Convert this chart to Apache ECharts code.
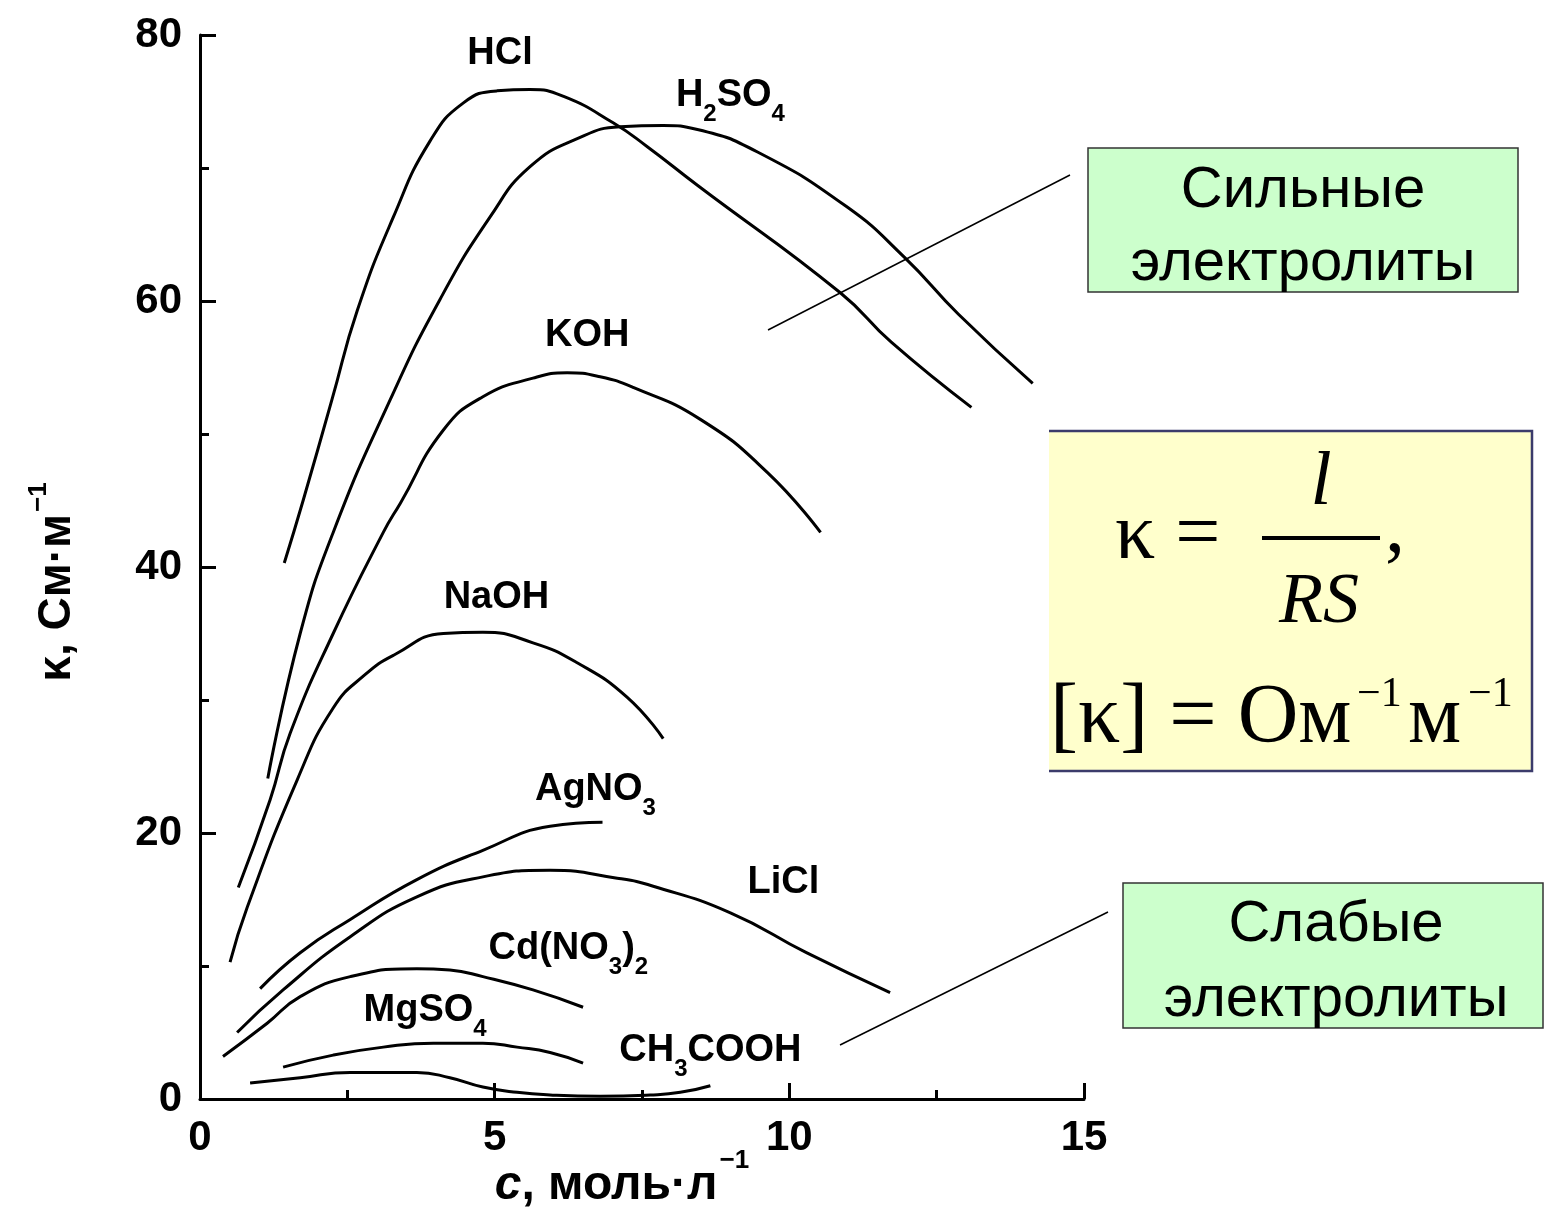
<!DOCTYPE html>
<html>
<head>
<meta charset="utf-8">
<script src="https://cdn.jsdelivr.net/npm/echarts@6/dist/echarts.min.js"></script>
<style>
html, body { margin: 0; padding: 0; background: #fff; }
#chart { width: 1545px; height: 1209px; }
</style>
</head>
<body>
<div id="chart"></div>
<script>
// удельная электропроводность κ (См/м) от концентрации c (моль/л)
const hcl = [[1.43, 40.3], [1.75, 45.0], [2.24, 52.6], [2.67, 59.3], [3.28, 66.3], [3.90, 72.0], [4.47, 74.9], [5.04, 75.8], [5.60, 75.9], [6.16, 75.4], [7.01, 73.4], [7.59, 71.6], [8.44, 68.7], [10.87, 60.6], [11.73, 56.9], [13.09, 52.0]];
const h2so4 = [[1.15, 24.1], [1.70, 35.0], [2.26, 42.6], [3.23, 52.6], [4.07, 60.1], [4.92, 66.3], [5.60, 70.1], [6.45, 72.3], [7.13, 73.1], [7.86, 73.2], [8.44, 72.9], [9.46, 71.2], [10.97, 67.1], [11.95, 63.3], [12.87, 59.0], [14.13, 53.8]];
const koh = [[0.65, 15.9], [1.19, 22.5], [1.53, 27.5], [2.26, 35.0], [3.11, 42.6], [3.40, 44.8], [4.13, 50.3], [4.80, 52.8], [5.65, 54.2], [6.23, 54.6], [6.79, 54.3], [7.35, 53.5], [8.49, 51.1], [9.63, 47.1], [10.53, 42.6]];
const naoh = [[0.51, 10.3], [0.80, 14.4], [1.65, 24.0], [2.26, 29.4], [2.80, 31.9], [3.30, 33.4], [4.13, 35.0], [4.80, 35.1], [5.65, 34.3], [6.40, 32.8], [7.25, 30.2], [7.86, 27.1]];
const agno3 = [[1.02, 8.3], [1.70, 11.0], [2.55, 13.5], [3.68, 16.5], [4.80, 18.7], [5.94, 20.5], [6.83, 20.8]];
const licl = [[0.63, 5.0], [1.41, 8.2], [2.55, 12.2], [3.68, 15.2], [4.80, 16.7], [5.94, 17.2], [7.08, 16.6], [7.69, 16.0], [9.00, 14.0], [10.29, 11.0], [11.71, 8.0]];
const cdno3 = [[0.39, 3.2], [1.14, 5.7], [1.70, 7.7], [2.55, 9.2], [3.68, 9.8], [4.24, 9.7], [4.80, 9.2], [5.65, 8.2], [6.50, 6.9]];
const mgso4 = [[1.41, 2.4], [2.26, 3.3], [3.11, 3.9], [3.96, 4.2], [4.80, 4.2], [5.38, 3.9], [5.94, 3.5], [6.50, 2.7]];
const ch3cooh = [[0.85, 1.2], [1.70, 1.6], [2.55, 2.0], [3.11, 2.0], [3.68, 2.0], [4.24, 1.6], [4.80, 0.9], [5.38, 0.5], [5.94, 0.3], [6.79, 0.2], [7.64, 0.3], [8.15, 0.5], [8.66, 1.0]];

const curves = [hcl, h2so4, koh, naoh, agno3, licl, cdno3, mgso4, ch3cooh];

// подписи кривых (текст в формате rich) и точки привязки в координатах графика
const curveNames = ["{m|HCl}", "{m|H}{s|2}{m|SO}{s|4}", "{m|KOH}", "{m|NaOH}", "{m|AgNO}{s|3}", "{m|LiCl}", "{m|Cd(NO}{s|3}{m|)}{s|2}", "{m|MgSO}{s|4}", "{m|CH}{s|3}{m|COOH}"];
const nameAnchors = [[5.09, 78.6], [9.0, 75.0], [6.57, 57.4], [5.03, 37.7], [6.71, 22.8], [9.9, 16.3], [6.25, 10.9], [3.82, 6.2], [8.66, 3.2]];

const sans = '"Liberation Sans", Arial, sans-serif';
const serif = '"Liberation Serif", "Times New Roman", serif';

const chart = echarts.init(document.getElementById("chart"));

const lineSeries = curves.map((pts) => ({
  type: "line",
  data: pts,
  smooth: 0.5,
  symbol: "none",
  showSymbol: false,
  silent: true,
  lineStyle: { color: "#000", width: 3 },
  z: 3,
}));

const labelSeries = {
  type: "scatter",
  symbolSize: 0,
  silent: true,
  itemStyle: { color: "#000", opacity: 1 },
  data: curveNames.map((n, i) => ({ value: nameAnchors[i], name: n })),
  label: {
    show: true,
    position: "inside",
    formatter: (p) => p.name,
    color: "#000",
    opacity: 1,
    textBorderWidth: 0,
    rich: {
      m: { fontFamily: sans, fontWeight: "bold", fontSize: 38, lineHeight: 38, color: "#000", textBorderWidth: 0, verticalAlign: "top" },
      s: { fontFamily: sans, fontWeight: "bold", fontSize: 24, color: "#000", textBorderWidth: 0, verticalAlign: "bottom", padding: [26, 0, 0, 0] },
    },
  },
};

const axisCommon = {
  type: "value",
  axisLine: { show: true, onZero: false, lineStyle: { color: "#000", width: 3 } },
  axisTick: { show: true, inside: true, length: 16, lineStyle: { color: "#000", width: 3 } },
  minorTick: { show: true, splitNumber: 2, length: 9, lineStyle: { color: "#000", width: 3 } },
  splitLine: { show: false },
  minorSplitLine: { show: false },
  axisLabel: { fontFamily: sans, fontSize: 42, fontWeight: "bold", color: "#000", margin: 18 },
  nameLocation: "middle",
  nameMoveOverlap: false,
};

const option = {
  backgroundColor: "#fff",
  animation: false,
  grid: { left: 200, top: 35, width: 884, height: 1064, outerBoundsMode: "none", containLabel: false },
  xAxis: {
    ...axisCommon,
    min: 0,
    max: 15,
    interval: 5,
    name: "{i|c}{t|, моль·л}{sup|−1}",
    nameGap: 49,
    nameTextStyle: {
      padding: [0, 40, 0, 0],
      rich: {
        i: { fontFamily: sans, fontSize: 48, fontWeight: "bold", fontStyle: "italic", lineHeight: 48, color: "#000", verticalAlign: "bottom" },
        t: { fontFamily: sans, fontSize: 48, fontWeight: "bold", lineHeight: 48, color: "#000", verticalAlign: "bottom" },
        sup: { fontFamily: sans, fontSize: 26, fontWeight: "bold", color: "#000", verticalAlign: "top", padding: [0, 0, 36, 2] },
      },
    },
  },
  yAxis: {
    ...axisCommon,
    min: 0,
    max: 80,
    interval: 20,
    name: "{t|κ, См·м}{sup|−1}",
    nameGap: 120,
    nameTextStyle: {
      padding: [0, 30, 0, 0],
      rich: {
        t: { fontFamily: sans, fontSize: 46, fontWeight: "bold", lineHeight: 46, color: "#000", verticalAlign: "bottom" },
        sup: { fontFamily: sans, fontSize: 26, fontWeight: "bold", color: "#000", verticalAlign: "top", padding: [0, 0, 28, 2] },
      },
    },
  },
  series: [...lineSeries, labelSeries],
  graphic: [
    // сильные электролиты
    { type: "line", shape: { x1: 768, y1: 330, x2: 1070, y2: 175 }, style: { stroke: "#000", lineWidth: 1.5 }, z: 10 },
    { type: "rect", shape: { x: 1088, y: 148, width: 430, height: 144 }, style: { fill: "#ccffcc", stroke: "#333", lineWidth: 1.5 }, z: 10 },
    { type: "text", x: 1303, y: 227, style: { text: "Сильные\nэлектролиты", font: "58px " + sans, fill: "#000", align: "center", verticalAlign: "middle", lineHeight: 73 }, z: 11 },
    // формула
    { type: "rect", shape: { x: 1049, y: 430, width: 484, height: 342 }, style: { fill: "#ffffcc" }, z: 10 },
    { type: "polyline", shape: { points: [[1049, 431], [1532, 431], [1532, 771], [1049, 771]] }, style: { stroke: "#3b3b6b", lineWidth: 2.5, fill: null }, z: 11 },
    { type: "text", x: 1115, y: 537, style: { text: "κ =", font: "80px " + serif, fill: "#000", align: "left", verticalAlign: "middle" }, z: 11 },
    { type: "rect", shape: { x: 1262, y: 536, width: 118, height: 4 }, style: { fill: "#000" }, z: 11 },
    { type: "text", x: 1321, y: 484, style: { text: "l", font: "italic 76px " + serif, fill: "#000", align: "center", verticalAlign: "middle" }, z: 11 },
    { type: "text", x: 1319, y: 603, style: { text: "RS", font: "italic 72px " + serif, fill: "#000", align: "center", verticalAlign: "middle" }, z: 11 },
    { type: "text", x: 1385, y: 530, style: { text: ",", font: "80px " + serif, fill: "#000", align: "left", verticalAlign: "middle" }, z: 11 },
    { type: "text", x: 1050, y: 720, style: { text: "[κ] = Ом", font: "84px " + serif, fill: "#000", align: "left", verticalAlign: "middle" }, z: 11 },
    { type: "text", x: 1357, y: 695, style: { text: "−1", font: "42px " + serif, fill: "#000", align: "left", verticalAlign: "middle" }, z: 11 },
    { type: "text", x: 1408, y: 720, style: { text: "м", font: "84px " + serif, fill: "#000", align: "left", verticalAlign: "middle" }, z: 11 },
    { type: "text", x: 1468, y: 695, style: { text: "−1", font: "42px " + serif, fill: "#000", align: "left", verticalAlign: "middle" }, z: 11 },
    // слабые электролиты
    { type: "line", shape: { x1: 840, y1: 1045, x2: 1108, y2: 912 }, style: { stroke: "#000", lineWidth: 1.5 }, z: 10 },
    { type: "rect", shape: { x: 1123, y: 883, width: 420, height: 145 }, style: { fill: "#ccffcc", stroke: "#333", lineWidth: 1.5 }, z: 10 },
    { type: "text", x: 1336, y: 962, style: { text: "Слабые\nэлектролиты", font: "58px " + sans, fill: "#000", align: "center", verticalAlign: "middle", lineHeight: 75 }, z: 11 },
  ],
};

chart.setOption(option);
</script>
</body>
</html>
